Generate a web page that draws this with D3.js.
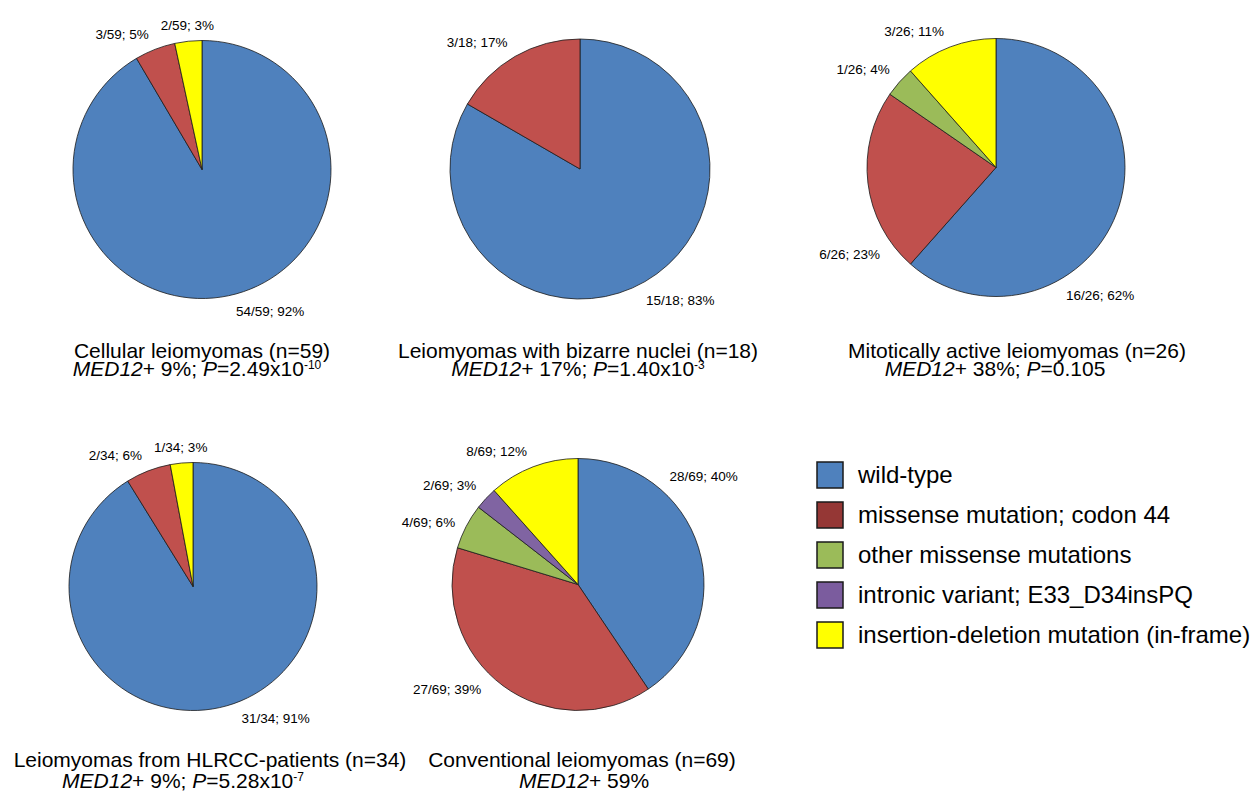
<!DOCTYPE html>
<html>
<head>
<meta charset="utf-8">
<script src="https://cdn.jsdelivr.net/npm/d3@7"></script>
<style>
  body { margin: 0; background: #fff; }
  svg { font-family: Arial, "Liberation Sans", sans-serif; }
</style>
</head>
<body>
<div id="chart"></div>
<script>
// categories (legend order = clockwise slice order)
var categories = ["wild-type", "missense mutation; codon 44", "other missense mutations",
                  "intronic variant; E33_D34insPQ", "insertion-deletion mutation (in-frame)"];
var pieColors = ["#4F81BD", "#C0504D", "#9BBB59", "#8064A2", "#FFFF00"];
var legendColors = ["#4F81BD", "#953735", "#9BBB59", "#7B5C9E", "#FFFF00"];

// counts per group, same order as categories
var cellular     = [54, 3, 0, 0, 2];
var bizarre      = [15, 3, 0, 0, 0];
var mitotic      = [16, 6, 1, 0, 3];
var hlrcc        = [31, 2, 0, 0, 1];
var conventional = [28, 27, 4, 2, 8];

// percentages as printed on the labels
var cellularPct     = [92, 5, 0, 0, 3];
var bizarrePct      = [83, 17, 0, 0, 0];
var mitoticPct      = [62, 23, 4, 0, 11];
var hlrccPct        = [91, 6, 0, 0, 3];
var conventionalPct = [40, 39, 6, 3, 12];

var groupNames = ["Cellular leiomyomas", "Leiomyomas with bizarre nuclei", "Mitotically active leiomyomas",
                  "Leiomyomas from HLRCC-patients", "Conventional leiomyomas"];
var med12Pct = ["9%", "17%", "38%", "9%", "59%"];
var pBase = ["2.49x10", "1.40x10", "0.105", "5.28x10", null];
var pExp  = ["-10", "-3", null, "-7", null];

// layout of each panel
var panels = [
  {cx: 202, cy: 169.5, r: 129, t1: 202, t2: 197, y1: 358, y2: 376, lab: [167, null, null, null, null]},
  {cx: 580, cy: 169,   r: 130, t1: 578, t2: 578, y1: 358, y2: 376, lab: [153, null, null, null, null]},
  {cx: 996, cy: 167.5, r: 129, t1: 1017, t2: 995, y1: 358, y2: 376, lab: [151, 235, null, null, null]},
  {cx: 193, cy: 586.5, r: 124, t1: 210, t2: 183, y1: 767, y2: 788, lab: [160, null, null, null, null]},
  {cx: 578, cy: 584.5, r: 126, t1: 582, t2: 584, y1: 767, y2: 788, lab: [41, 224, null, null, null]}
];

var groups = [cellular, bizarre, mitotic, hlrcc, conventional];
var groupPcts = [cellularPct, bizarrePct, mitoticPct, hlrccPct, conventionalPct];

var width = 1252, height = 795;
var svg = d3.select("#chart").append("svg")
    .attr("width", width)
    .attr("height", height);

var pie = d3.pie().sort(null).value(function(d){ return d.n; });

groups.forEach(function(counts, gi){
    var p = panels[gi];
    var total = d3.sum(counts);
    var rows = counts.map(function(n, i){ return {n: n, cat: i, pct: groupPcts[gi][i]}; })
        .filter(function(d){ return d.n > 0; });
    var arcs = pie(rows);
    var arc = d3.arc().innerRadius(0).outerRadius(p.r);

    var g = svg.append("g")
        .attr("transform", "translate(" + p.cx + "," + p.cy + ")");

    g.selectAll("path")
        .data(arcs)
        .enter()
        .append("path")
          .attr("d", arc)
          .attr("fill", function(d){ return pieColors[d.data.cat]; })
          .attr("stroke", "#1a1a1a")
          .attr("stroke-width", 0.8)
          .attr("stroke-linejoin", "round");

    // outside-end labels
    g.selectAll("text.lbl")
        .data(arcs)
        .enter()
        .append("text")
          .attr("class", "lbl")
          .style("font-size", "13.5px")
          .attr("fill", "#000")
          .each(function(d){
              var deg = p.lab[d.data.cat];
              var a = deg != null ? deg * Math.PI / 180 : (d.startAngle + d.endAngle) / 2;
              var R = p.r + 9;
              var s = Math.sin(a), c = Math.cos(a);
              var px = R * s, py = -R * c;
              var anchor = "middle", x = px, y;
              if (s > 0.2) { anchor = "start"; x = px + 3; }
              else if (s < -0.2) { anchor = "end"; x = px - 3; }
              if (c > 0.5) y = py - 2;
              else if (c < -0.5) y = py + 12;
              else y = py + 5;
              d3.select(this)
                .attr("text-anchor", anchor)
                .attr("x", x)
                .attr("y", y)
                .text(d.data.n + "/" + total + "; " + d.data.pct + "%");
          });

    // title lines
    svg.append("text")
        .attr("x", p.t1)
        .attr("y", p.y1)
        .attr("text-anchor", "middle")
        .style("font-size", "21px")
        .text(groupNames[gi] + " (n=" + total + ")");

    var sub = svg.append("text")
        .attr("x", p.t2)
        .attr("y", p.y2)
        .attr("text-anchor", "middle")
        .style("font-size", "21px");
    sub.append("tspan").style("font-style", "italic").text("MED12");
    sub.append("tspan").text("+ " + med12Pct[gi] + (pBase[gi] ? "; " : ""));
    if (pBase[gi]) {
        sub.append("tspan").style("font-style", "italic").text("P");
        sub.append("tspan").text("=" + pBase[gi]);
        if (pExp[gi]) {
            sub.append("tspan")
                .attr("dy", -7)
                .style("font-size", "12px")
                .text(pExp[gi]);
        }
    }
});

// legend
var legend = svg.append("g").attr("transform", "translate(817,462)");
var item = legend.selectAll("g")
    .data(categories)
    .enter()
    .append("g")
      .attr("transform", function(d, i){ return "translate(0," + (i * 40) + ")"; });
item.append("rect")
    .attr("width", 26)
    .attr("height", 26)
    .attr("fill", function(d, i){ return legendColors[i]; })
    .attr("stroke", "#1a1a1a")
    .attr("stroke-width", 1.5);
item.append("text")
    .attr("x", 41)
    .attr("y", 21)
    .style("font-size", "24px")
    .text(function(d){ return d; });
</script>
</body>
</html>
